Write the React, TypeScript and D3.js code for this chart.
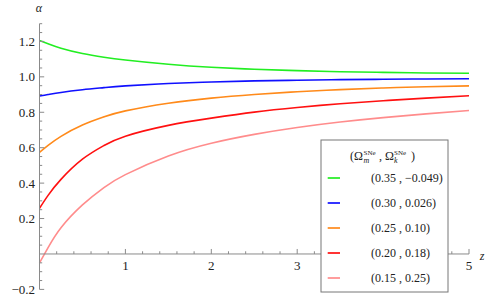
import React from 'react'
import * as d3 from 'd3'

// redshift samples and alpha
const zValues = [0, 0.1, 0.25, 0.5, 0.75, 1, 1.5, 2, 2.5, 3, 3.5, 4, 4.5, 5]
const green = [1.205, 1.187, 1.162, 1.132, 1.111, 1.095, 1.071, 1.054, 1.043, 1.035, 1.029, 1.025, 1.022, 1.02]
const blue = [0.892, 0.9, 0.912, 0.927, 0.939, 0.949, 0.962, 0.971, 0.977, 0.981, 0.984, 0.986, 0.988, 0.989]
const orange = [0.574, 0.613, 0.664, 0.728, 0.774, 0.808, 0.851, 0.88, 0.9, 0.916, 0.928, 0.937, 0.944, 0.949]
const red = [0.258, 0.331, 0.421, 0.535, 0.612, 0.665, 0.726, 0.767, 0.801, 0.827, 0.848, 0.865, 0.88, 0.893]
const pink = [-0.05, 0.036, 0.148, 0.277, 0.375, 0.448, 0.553, 0.625, 0.675, 0.714, 0.745, 0.77, 0.791, 0.81]

const seriesLabels = ['(0.35 , \u22120.049)', '(0.30 , 0.026)', '(0.25 , 0.10)', '(0.20 , 0.18)', '(0.15 , 0.25)']
const seriesColors = ['#22ee22', '#1010ff', '#ff8a1a', '#ff1010', '#ff8c8c']
const series = [green, blue, orange, red, pink]

const xTicks = [1, 2, 3, 4, 5]
const xTickLabels = [1, 2, 3, 5] // the 4 sits under the legend box
const yTicks = [-0.2, 0.2, 0.4, 0.6, 0.8, 1.0, 1.2]

const serif = 'Liberation Serif'

export default function App() {
  const W = 491
  const H = 306
  const x = d3.scaleLinear().domain([0, 5]).range([39.5, 469])
  const y = d3.scaleLinear().domain([-0.2, 1.3]).range([289.4, 23.7])

  const line = d3.line<number>()
    .x((d, i) => x(zValues[i]))
    .y(d => y(d))
    .curve(d3.curveNatural)

  const xMinor = d3.range(0, 25).map(i => i * 0.2).filter(v => v > 0.01 && Math.abs(v - Math.round(v)) > 0.01)
  const yMinor = d3.range(-4, 27).map(i => i * 0.05).filter(v => Math.abs(v * 5 - Math.round(v * 5)) > 0.01)

  const axisColor = '#8a8a8a'
  const y0 = y(0)
  const x0 = x(0)

  // legend
  const lg = { x: 321, y: 140, w: 127, h: 152 }
  const rowY = (i: number) => 178 + i * 25

  return (
    <div style={{ position: 'absolute', left: 0, top: 0 }}>
      <svg width={W} height={H} fontFamily={serif} style={{ display: 'block', background: '#fff' }}>
        {series.map((s, i) => (
          <path key={i} d={line(s) || ''} fill="none" stroke={seriesColors[i]} strokeWidth={1.6} />
        ))}

        {/* x axis */}
        <line x1={x0} x2={x(5)} y1={y0} y2={y0} stroke={axisColor} strokeWidth={1} />
        {xMinor.map(v => (
          <line key={'xm' + v} x1={x(v)} x2={x(v)} y1={y0} y2={y0 - 2.7} stroke={axisColor} />
        ))}
        {xTicks.map(v => (
          <line key={'xt' + v} x1={x(v)} x2={x(v)} y1={y0} y2={y0 - 5} stroke={axisColor} />
        ))}
        {xTickLabels.map(v => (
          <text key={'xl' + v} x={x(v)} y={270} textAnchor="middle" fontSize={13} fill="#222">{v}</text>
        ))}

        {/* y axis */}
        <line x1={x0} x2={x0} y1={y(-0.2)} y2={y(1.3)} stroke={axisColor} strokeWidth={1} />
        {yMinor.map(v => (
          <line key={'ym' + v} x1={x0} x2={x0 + 2.7} y1={y(v)} y2={y(v)} stroke={axisColor} />
        ))}
        {yTicks.map(v => (
          <g key={'yt' + v}>
            <line x1={x0} x2={x0 + 4.7} y1={y(v)} y2={y(v)} stroke={axisColor} />
            <text x={35} y={y(v) + 4.5} textAnchor="end" fontSize={13} fill="#222">
              {v < 0 ? '\u2212' + Math.abs(v).toFixed(1) : v.toFixed(1)}
            </text>
          </g>
        ))}

        <text x={39} y={12} textAnchor="middle" fontStyle="italic" fontSize={12} fill="#222">α</text>
        <text x={482} y={260} textAnchor="middle" fontStyle="italic" fontSize={12} fill="#222">z</text>

        {/* legend */}
        <rect x={lg.x} y={lg.y} width={lg.w} height={lg.h} fill="#fff" stroke="#777" strokeWidth={1} />
        <text x={350} y={160} fontSize={12} fill="#222">
          (Ω
          <tspan x={363.5} y={155} fontSize={7}>SNe</tspan>
          <tspan x={363.5} y={163} fontSize={8} fontStyle="italic">m</tspan>
          <tspan x={379} y={160} fontSize={12}>, Ω</tspan>
          <tspan x={394} y={155} fontSize={7}>SNe</tspan>
          <tspan x={394} y={163} fontSize={8} fontStyle="italic">k</tspan>
          <tspan x={411} y={160} fontSize={12}>)</tspan>
        </text>
        {seriesLabels.map((lab, i) => (
          <g key={lab}>
            <line x1={327.7} x2={340} y1={rowY(i)} y2={rowY(i)} stroke={seriesColors[i]} strokeWidth={1.7} />
            <text x={371} y={rowY(i) + 4} fontSize={12} fill="#222">{lab}</text>
          </g>
        ))}
      </svg>
    </div>
  )
}
